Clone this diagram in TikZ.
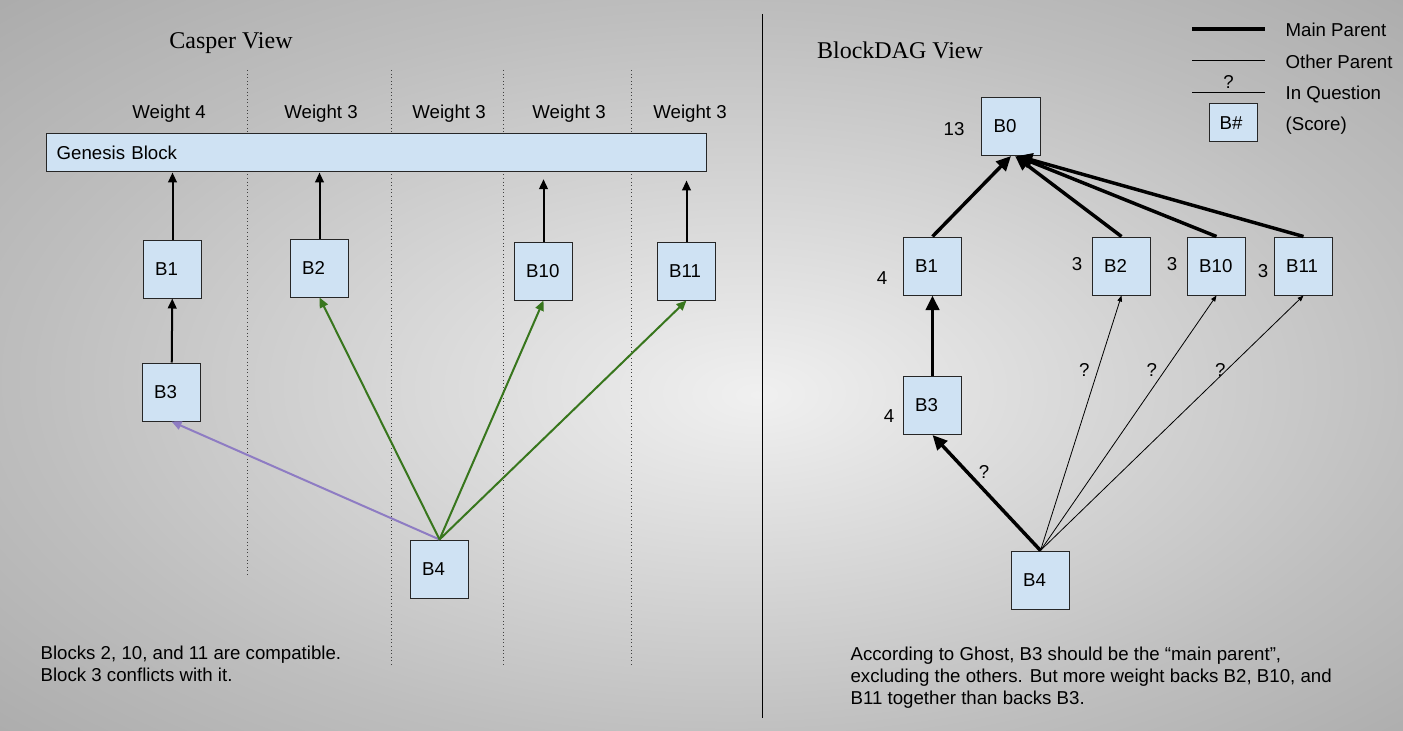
\documentclass[tikz,border=0pt]{standalone}
\usepackage{fontspec}
\setmainfont{Liberation Sans}
\newfontfamily\titlefont{Liberation Serif}
\usetikzlibrary{positioning,arrows.meta}
\definecolor{BlockBlue}{RGB}{207,226,243}
\definecolor{CompatGreen}{RGB}{56,118,29}
\definecolor{ConflictPurple}{RGB}{142,124,195}
\definecolor{BgCenter}{RGB}{240,240,240}
\definecolor{BgEdge}{RGB}{190,190,190}
\definecolor{BgCorner}{RGB}{172,172,172}
\pgfdeclareradialshading{bgglow}{\pgfpoint{2bp}{-2bp}}{color(0bp)=(BgCenter); color(25bp)=(BgEdge); color(36bp)=(BgCorner); color(50bp)=(BgCorner)}

\begin{document}
\begin{tikzpicture}[x=0.75pt, y=-0.75pt,
  block/.style={rectangle, draw=black!85, line width=0.75pt, fill=BlockBlue, minimum width=44pt, minimum height=43.5pt, text width=26pt, inner xsep=9pt, align=left, font=\fontsize{14}{16}\selectfont},
  lbl/.style={font=\fontsize{14}{16}\selectfont, inner sep=1pt, text height=10pt, text depth=0pt},
  note/.style={anchor=west, align=left, inner sep=1pt, font=\fontsize{14}{16.5}\selectfont},
  heading/.style={font=\titlefont\fontsize{18}{22}\selectfont},
  parent/.style={->, >={Triangle[length=7.5pt, width=6.5pt]}, line width=1.5pt},
  compat/.style={parent, CompatGreen},
  conflict/.style={parent, ConflictPurple},
  mainpar/.style={->, >={Triangle[length=11pt, width=10pt]}, line width=2.6pt},
  otherpar/.style={->, >={Triangle[length=4.5pt, width=3.5pt]}, line width=0.6pt},
  lane/.style={dotted, line width=0.7pt, black!75}
]
  % background and dividers
  \shade[shading=bgglow] (0,0) rectangle (1403,731);
  \draw[line width=0.75pt] (762,14) -- (762,718);
  \foreach \x/\yend in {247/576, 391/667, 503/667, 631/667}
    \draw[lane] (\x,70) -- (\x,\yend);

  % Casper view
  \node[heading] (caspertitle) at (231,43) {Casper View};
  \foreach \x/\w [count=\i] in {169/4, 321/3, 449/3, 569/3, 690/3}
    \node[lbl] (weight\i) at (\x,112) {Weight \w};
  \node[block, text width=479pt, inner xsep=8pt, minimum height=28.5pt] (genesis) at (376,153) {Genesis Block};

  \node[block] (cB1) at (172.5,269) {B1};
  \node[block] (cB2) at (319.5,268) {B2};
  \node[block] (cB10) at (543.5,271) {B10};
  \node[block] (cB11) at (686.5,271) {B11};
  \node[block] (cB3) at (171.5,392) {B3};
  \node[block] (cB4) at (439.5,569) {B4};

  \draw[parent] (cB1) -- (cB1.north |- genesis.south);
  \draw[parent] (cB2) -- (cB2.north |- genesis.south);
  \draw[parent, shorten >=5pt] (cB10) -- (cB10.north |- genesis.south);
  \draw[parent, shorten >=6pt] (cB11) -- (cB11.north |- genesis.south);
  \draw[parent] (cB3) -- (cB1);
  \draw[conflict] (cB4.north) -- (cB3.south);
  \draw[compat] (cB4.north) -- (cB2.south);
  \draw[compat] (cB4.north) -- (cB10.south);
  \draw[compat] (cB4.north) -- (cB11.south);

  \node[note] (caspernote) at (39,664) {Blocks 2, 10, and 11 are compatible.\\Block 3 conflicts with it.};

  % BlockDAG view
  \node[heading] (dagtitle) at (900,50) {BlockDAG View};

  \node[block] (dB0) at (1011,126.5) {B0};
  \node[block] (dB1) at (932.5,266) {B1};
  \node[block] (dB2) at (1121.5,266) {B2};
  \node[block] (dB10) at (1216.5,266) {B10};
  \node[block] (dB11) at (1303.5,266) {B11};
  \node[block] (dB3) at (932.5,405.5) {B3};
  \node[block] (dB4) at (1040.5,580) {B4};

  \node[lbl] (score0) at (954,129) {13};
  \node[lbl] (score1) at (882,278) {4};
  \node[lbl] (score2) at (1077,264) {3};
  \node[lbl] (score10) at (1172,264) {3};
  \node[lbl] (score11) at (1263,271) {3};
  \node[lbl] (score3) at (889,416) {4};

  \draw[mainpar] (dB1.north) -- (dB0.south);
  \draw[mainpar] (dB2.north) -- ([xshift=3pt]dB0.south);
  \draw[mainpar] (dB10.north) -- ([xshift=4pt]dB0.south);
  \draw[mainpar] (dB11.north) -- ([xshift=5pt]dB0.south);
  \draw[mainpar] (dB3) -- (dB1);
  \draw[mainpar] (dB4.north) -- node[lbl, pos=0.6, above right] (ask3) {?} (dB3.south);
  \draw[otherpar] (dB4.north) -- node[lbl, pos=0.71, left=5pt] (ask2) {?} (dB2.south);
  \draw[otherpar] (dB4.north) -- node[lbl, pos=0.71, left=5pt] (ask10) {?} (dB10.south);
  \draw[otherpar] (dB4.north) -- node[lbl, pos=0.71, left=0pt] (ask11) {?} (dB11.south);

  \node[note] (dagnote) at (849,678) {According to Ghost, B3 should be the “main parent”,\\excluding the others. But more weight backs B2, B10, and\\B11 together than backs B3.};

  % legend
  \coordinate (mainA) at (1192,29);  \coordinate (mainB) at (1265,29);
  \coordinate (otherA) at (1192,61); \coordinate (otherB) at (1265,61);
  \coordinate (askA) at (1192,93);   \coordinate (askB) at (1265,93);
  \draw[line width=3pt] (mainA) -- (mainB);
  \draw[line width=0.75pt] (otherA) -- (otherB);
  \draw[line width=0.75pt] (askA) -- node[lbl, above=2pt] (askmark) {?} (askB);
  \node[block, minimum width=36pt, minimum height=28.5pt, text width=20pt, inner xsep=8pt] (legblock) at (1233,123) {B\#};
  \node[lbl, anchor=west] (legmain) at (1284,30) {Main Parent};
  \node[lbl, anchor=west] (legother) at (1284,62) {Other Parent};
  \node[lbl, anchor=west] (legask) at (1284,93) {In Question};
  \node[lbl, anchor=west] (legscore) at (1284,124) {(Score)};
\end{tikzpicture}
\end{document}
